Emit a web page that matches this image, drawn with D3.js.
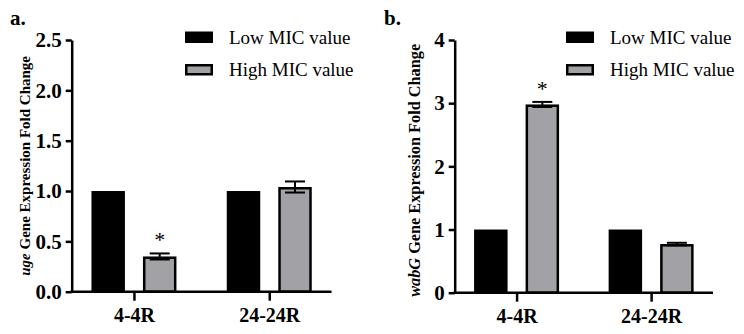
<!DOCTYPE html>
<html>
<head>
<meta charset="utf-8">
<script src="https://cdn.jsdelivr.net/npm/d3@7"></script>
<style>
  body { margin: 0; background: #fff; }
  svg { display: block; }
  text { font-family: "Times New Roman", "Liberation Serif", Tinos, "DejaVu Serif", serif; fill: #000; }
</style>
</head>
<body>
<svg id="chart" width="744" height="334"></svg>
<script>
// data
const categories = ["4-4R", "24-24R"];
const seriesNames = ["Low MIC value", "High MIC value"];

const ugeLow = [1, 1];
const ugeHigh = [0.35, 1.04];
const ugeHighErr = [0.03, 0.055];
const ugeStar = [true, false];
const ugeTicks = [0, 0.5, 1.0, 1.5, 2.0, 2.5];

const wabgLow = [1, 1];
const wabgHigh = [2.98, 0.77];
const wabgHighErr = [0.04, 0.02];
const wabgStar = [true, false];
const wabgTicks = [0, 1, 2, 3, 4];

const seriesColors = ["#000000", "#a2a2a6"];
const serif = '"Times New Roman", "Liberation Serif", Tinos, "DejaVu Serif", serif';

const svg = d3.select("#chart");

function drawPanel(opt) {
    const g = svg.append("g");

    const y = d3.scaleLinear()
        .domain([0, opt.yMax])
        .range([opt.bottom, opt.top]);

    const x0 = d3.scalePoint()
        .domain(categories)
        .range([opt.left, opt.right])
        .padding(0.46);

    const x1 = d3.scaleBand()
        .domain(seriesNames)
        .range([-42.5, 42.5])
        .paddingInner(0.35);

    // bars
    categories.forEach((cat, i) => {
        const vals = [opt.low[i], opt.high[i]];
        vals.forEach((v, s) => {
            const bx = x0(cat) + x1(seriesNames[s]);
            const inset = s === 1 ? 1.25 : 0;
            g.append("rect")
                .attr("x", bx + inset)
                .attr("y", y(v) + inset)
                .attr("width", x1.bandwidth() - inset * 2)
                .attr("height", y(0) - y(v) - inset)
                .attr("fill", seriesColors[s])
                .attr("stroke", s === 1 ? "#000" : "none")
                .attr("stroke-width", 2.5);
        });

        // error bar on high MIC bar
        const cx = x0(cat) + x1(seriesNames[1]) + x1.bandwidth() / 2;
        const v = opt.high[i], e = opt.err[i];
        g.append("line")
            .attr("x1", cx).attr("x2", cx)
            .attr("y1", y(v - e)).attr("y2", y(v + e))
            .attr("stroke", "#000").attr("stroke-width", 2);
        [v - e, v + e].forEach(c => {
            g.append("line")
                .attr("x1", cx - 10).attr("x2", cx + 10)
                .attr("y1", y(c)).attr("y2", y(c))
                .attr("stroke", "#000").attr("stroke-width", 2);
        });

        if (opt.star[i]) {
            g.append("text")
                .attr("x", cx)
                .attr("y", y(v + e) - 6)
                .attr("text-anchor", "middle")
                .style("font-size", "22px")
                .text("*");
        }
    });

    // y axis
    const yAxis = g.append("g")
        .attr("transform", `translate(${opt.left},0)`)
        .call(d3.axisLeft(y)
            .tickValues(opt.ticks)
            .tickFormat(opt.fmt)
            .tickSize(6)
            .tickSizeOuter(0)
            .tickPadding(4));
    yAxis.select(".domain").attr("stroke-width", 2.5);
    yAxis.selectAll(".tick line").attr("stroke-width", 2.5);
    yAxis.selectAll(".tick text")
        .style("font-size", "21px")
        .style("font-weight", "bold")
        .style("font-family", serif);

    // x axis
    const xAxis = g.append("g")
        .attr("transform", `translate(0,${opt.bottom})`)
        .call(d3.axisBottom(x0)
            .tickSize(9)
            .tickSizeOuter(0)
            .tickPadding(7));
    xAxis.select(".domain").attr("stroke-width", 2.5)
        .attr("d", `M${opt.left - 1.25},0H${opt.right}`);
    xAxis.selectAll(".tick line").attr("stroke-width", 2.5);
    xAxis.selectAll(".tick text")
        .style("font-size", "20px")
        .style("font-weight", "bold")
        .style("font-family", serif);

    // y title
    const title = g.append("text")
        .attr("transform", `translate(${opt.titleX},${(opt.top + opt.bottom) / 2 + opt.titleShift}) rotate(-90)`)
        .attr("text-anchor", "middle")
        .style("font-size", opt.titleSize + "px")
        .style("font-weight", "bold");
    title.append("tspan").style("font-style", "italic").text(opt.gene);
    title.append("tspan").text(" Gene Expression Fold Change");

    // panel letter
    g.append("text")
        .attr("x", opt.letterX)
        .attr("y", 25)
        .style("font-size", "21px")
        .style("font-weight", "bold")
        .text(opt.letter);

    // legend
    seriesNames.forEach((name, s) => {
        const ly = s === 0 ? 31.5 : 64;
        g.append("rect")
            .attr("x", opt.legendX + (s === 1 ? 1.25 : 0))
            .attr("y", ly + (s === 1 ? 1.25 : 0))
            .attr("width", 28 - (s === 1 ? 2.5 : 0))
            .attr("height", 11.5 - (s === 1 ? 2.5 : 0))
            .attr("fill", seriesColors[s])
            .attr("stroke", s === 1 ? "#000" : "none")
            .attr("stroke-width", 2.5);
        g.append("text")
            .attr("x", opt.legendX + 44)
            .attr("y", s === 0 ? 44 : 76)
            .style("font-size", "19px")
            .text(name);
    });
}

drawPanel({
    gene: "uge", letter: "a.", letterX: 10,
    low: ugeLow, high: ugeHigh, err: ugeHighErr, star: ugeStar,
    ticks: ugeTicks, fmt: d3.format(".1f"), yMax: 2.5,
    left: 71.7, right: 331.5, top: 40, bottom: 291.7,
    titleX: 30, titleSize: 15, titleShift: 0,
    legendX: 185
});

drawPanel({
    gene: "wabG", letter: "b.", letterX: 384,
    low: wabgLow, high: wabgHigh, err: wabgHighErr, star: wabgStar,
    ticks: wabgTicks, fmt: d3.format("d"), yMax: 4,
    left: 454.7, right: 713, top: 40, bottom: 292.7,
    titleX: 420, titleSize: 16.3, titleShift: 4,
    legendX: 566
});
</script>
</body>
</html>
